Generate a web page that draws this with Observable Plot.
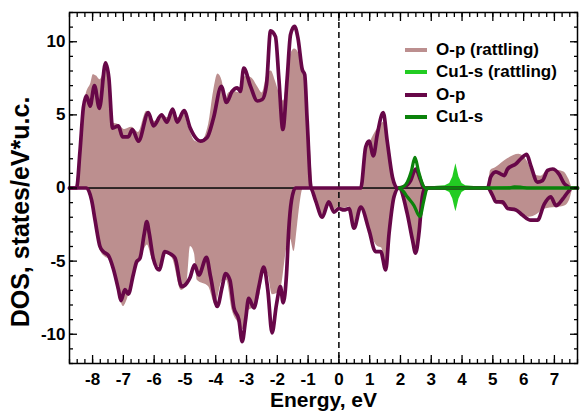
<!DOCTYPE html>
<html>
<head>
<meta charset="utf-8">
<script src="https://cdn.jsdelivr.net/npm/d3@7"></script>
<script src="https://cdn.jsdelivr.net/npm/@observablehq/plot@0.6"></script>
<style>
  body { margin: 0; background: #fff; font-family: "Liberation Sans", Arial, Helvetica, sans-serif; }
  #wrap { position: relative; width: 582px; height: 412px; }
  #legend { position: absolute; left: 0; top: 0; }
  .row { position: absolute; display: flex; align-items: center; height: 22px; white-space: nowrap;
         font-size: 17px; font-weight: bold; color: #000; }
  .sw { width: 22px; height: 4px; margin-right: 9px; }
</style>
</head>
<body>
<div id="wrap"><div id="chart"></div><div id="legend"></div></div>
<script>
// Partial densities of states, spin up (positive) and spin down (negative), [energy eV, DOS]
const opRattUp = [[-8.75,0],[-8.56,0],[-8.4,3.0],[-8.3,5.5],[-8.2,6.5],[-8.05,7.2],[-7.98,7.75],[-7.87,7.65],[-7.76,7.4],[-7.65,7.85],[-7.58,8.3],[-7.43,7.2],[-7.33,4.45],[-7.16,4.35],[-6.95,4.0],[-6.73,4.15],[-6.51,3.8],[-6.24,5.25],[-5.97,4.55],[-5.76,5.0],[-5.54,4.8],[-5.38,5.3],[-5.21,4.8],[-5.05,5.2],[-4.89,4.2],[-4.67,3.2],[-4.5,3.1],[-4.23,4.35],[-4.07,6.6],[-3.93,7.8],[-3.79,7.3],[-3.68,6.05],[-3.58,6.5],[-3.41,6.6],[-3.2,6.5],[-3.03,7.65],[-2.82,7.5],[-2.65,6.95],[-2.49,6.5],[-2.33,7.75],[-2.2,8.0],[-2.06,7.3],[-1.92,6.4],[-1.79,5.95],[-1.68,7.5],[-1.57,9.1],[-1.44,9.5],[-1.3,9.2],[-1.19,8.1],[-1.03,6.4],[-0.92,2.55],[-0.83,0],[0.74,0],[0.87,2.55],[1.03,3.2],[1.19,3.85],[1.36,4.3],[1.45,4.5],[1.55,3.7],[1.68,1.5],[1.75,0.5],[1.84,0],[2.17,0],[2.33,0.6],[2.49,1.3],[2.66,0.6],[2.79,0],[4.83,0],[4.93,1.2],[5.1,1.4],[5.48,2.0],[5.85,2.3],[6.1,1.9],[6.33,0.95],[6.56,0.8],[6.79,1.2],[7.08,1.2],[7.31,1.1],[7.47,0.6],[7.6,0],[7.75,0]];
const opRattDn = [[-8.75,0],[-8.24,0],[-8.03,-0.9],[-7.92,-2.3],[-7.76,-4.2],[-7.6,-4.7],[-7.42,-4.9],[-7.26,-5.8],[-7.13,-7.3],[-7.0,-8.1],[-6.87,-7.6],[-6.62,-5.7],[-6.35,-4.35],[-6.22,-3.9],[-6.06,-4.9],[-5.84,-5.4],[-5.64,-4.5],[-5.41,-4.8],[-5.11,-7.0],[-4.94,-6.6],[-4.82,-4.0],[-4.69,-4.5],[-4.6,-6.3],[-4.23,-6.75],[-4.01,-8.0],[-3.79,-6.4],[-3.65,-6.3],[-3.46,-8.4],[-3.25,-9.25],[-3.09,-9.7],[-2.93,-8.4],[-2.71,-8.1],[-2.55,-7.2],[-2.42,-5.5],[-2.29,-6.0],[-2.16,-7.3],[-1.9,-7.0],[-1.68,-4.0],[-1.57,-3.5],[-1.46,-4.35],[-1.34,-2.5],[-1.25,-0.9],[-1.15,0],[-0.92,0],[-0.76,-0.8],[-0.54,-1.9],[-0.33,-0.95],[-0.16,-1.5],[0,-1.3],[0.16,-1.4],[0.33,-1.3],[0.49,-2.5],[0.71,-1.3],[0.98,-2.9],[1.13,-3.6],[1.26,-4.0],[1.39,-4.1],[1.52,-5.4],[1.63,-3.0],[1.78,-0.6],[1.94,0],[2.22,-1.6],[2.39,-3.4],[2.49,-4.3],[2.6,-3.0],[2.71,-0.6],[2.79,0],[4.83,0],[4.97,-0.6],[5.1,-0.9],[5.45,-1.3],[5.69,-1.5],[5.96,-1.8],[6.17,-2.0],[6.45,-1.8],[6.62,-1.5],[6.94,-1.35],[7.21,-1.3],[7.37,-1.2],[7.5,-0.8],[7.63,0],[7.75,0]];
const cuRattUp = [[2.85,0],[2.95,0.06],[3.2,0.12],[3.45,0.15],[3.6,0.3],[3.7,0.75],[3.76,1.3],[3.8,1.65],[3.84,1.3],[3.9,0.75],[4.0,0.3],[4.12,0.15],[4.4,0.1],[4.7,0.06],[5.0,0.04],[5.6,0.1],[5.8,0.08],[6.2,0.03],[7.75,0.02]];
const cuRattDn = [[2.85,0],[2.95,-0.06],[3.2,-0.12],[3.45,-0.15],[3.6,-0.3],[3.7,-0.75],[3.76,-1.3],[3.8,-1.63],[3.84,-1.3],[3.9,-0.75],[4.0,-0.3],[4.12,-0.15],[4.4,-0.1],[4.7,-0.06],[5.0,-0.04],[5.6,-0.1],[5.8,-0.08],[6.2,-0.03],[7.75,-0.02]];
const opUp = [[-8.75,0],[-8.52,0],[-8.41,2.5],[-8.3,5.5],[-8.2,6.3],[-8.08,5.6],[-7.94,7.0],[-7.78,5.45],[-7.58,8.55],[-7.47,7.5],[-7.35,4.1],[-7.16,4.25],[-7.03,3.5],[-6.84,3.5],[-6.71,4.0],[-6.51,3.2],[-6.19,5.15],[-6.02,4.25],[-5.76,5.0],[-5.59,4.5],[-5.4,5.4],[-5.25,4.5],[-5.03,5.3],[-4.83,4.1],[-4.62,3.35],[-4.5,3.2],[-4.28,3.45],[-4.07,4.8],[-3.82,6.95],[-3.65,5.85],[-3.47,6.6],[-3.3,6.85],[-3.2,6.6],[-3.09,8.2],[-2.87,6.95],[-2.65,5.95],[-2.49,6.05],[-2.35,7.1],[-2.22,10.75],[-2.06,10.35],[-1.95,7.5],[-1.82,4.0],[-1.68,7.5],[-1.57,10.5],[-1.44,11.05],[-1.33,10.25],[-1.19,8.1],[-1.11,7.75],[-1.03,4.6],[-0.9,0],[0.71,0],[0.87,2.8],[0.98,3.2],[1.12,2.2],[1.25,3.7],[1.44,5.15],[1.57,3.2],[1.74,0.75],[1.9,0],[2.14,0.1],[2.33,0.5],[2.49,1.3],[2.66,0.5],[2.76,0],[4.83,0],[4.93,0.75],[5.1,1.1],[5.26,0.95],[5.37,0.85],[5.48,1.3],[5.75,1.65],[5.91,2.0],[6.1,2.3],[6.23,1.55],[6.45,0.4],[6.61,0.5],[6.78,1.2],[6.94,1.3],[7.15,0.95],[7.32,0.3],[7.44,0.1],[7.53,0],[7.75,0]];
const opDn = [[-8.75,0],[-8.2,0],[-8.03,-0.85],[-7.92,-2.2],[-7.76,-4.0],[-7.65,-4.35],[-7.49,-4.6],[-7.33,-5.5],[-7.16,-6.95],[-7.08,-7.7],[-6.95,-6.95],[-6.84,-7.25],[-6.68,-5.95],[-6.57,-5.05],[-6.46,-4.8],[-6.32,-3.1],[-6.24,-2.3],[-6.16,-3.1],[-6.03,-4.8],[-5.84,-5.6],[-5.65,-4.35],[-5.48,-4.5],[-5.32,-4.8],[-5.11,-6.75],[-4.94,-6.5],[-4.83,-6.1],[-4.69,-5.25],[-4.55,-5.95],[-4.3,-4.75],[-4.17,-6.05],[-3.95,-8.1],[-3.79,-6.75],[-3.68,-5.85],[-3.54,-6.3],[-3.41,-8.2],[-3.25,-9.0],[-3.14,-10.5],[-3.03,-9.0],[-2.93,-7.55],[-2.76,-8.2],[-2.6,-6.75],[-2.44,-5.4],[-2.31,-6.95],[-2.17,-9.9],[-2.03,-8.0],[-1.9,-6.75],[-1.81,-7.85],[-1.7,-5.85],[-1.63,-2.9],[-1.54,-0.85],[-1.41,0],[-0.92,0],[-0.76,-0.85],[-0.54,-2.0],[-0.33,-0.95],[-0.16,-1.65],[0,-1.4],[0.16,-1.5],[0.33,-1.4],[0.49,-2.75],[0.71,-1.3],[0.98,-2.9],[1.19,-4.35],[1.36,-4.35],[1.52,-5.6],[1.63,-3.1],[1.79,-0.6],[1.95,0],[2.22,-1.75],[2.39,-3.55],[2.49,-4.45],[2.6,-3.1],[2.71,-0.6],[2.79,0],[4.83,0],[4.99,-0.5],[5.1,-0.95],[5.31,-0.95],[5.48,-1.4],[5.75,-1.5],[5.96,-1.85],[6.23,-2.2],[6.45,-2.2],[6.67,-1.1],[6.88,-0.6],[7.05,-1.2],[7.27,-0.75],[7.43,-0.3],[7.57,0],[7.75,0]];
const cuUp = [[1.97,0],[2.1,0.1],[2.22,0.4],[2.36,1.2],[2.47,2.1],[2.58,1.2],[2.71,0.3],[2.81,0],[5.5,0],[5.7,0.08],[5.9,0.06],[6.1,0],[7.75,0]];
const cuDn = [[1.97,0],[2.1,-0.25],[2.22,-0.6],[2.44,-1.2],[2.63,-1.95],[2.76,-0.85],[2.85,-0.1],[2.92,0],[3.9,0],[4.0,-0.05],[4.1,0],[7.75,0]];

// Series names and colours for the legend
const seriesNames = ["O-p (rattling)", "Cu1-s (rattling)", "O-p", "Cu1-s"];
const seriesColors = ["#bc8f8f", "#22cc22", "#670748", "#0b820b"];

// Axis ticks and titles
const xMajor = d3.range(-8, 8, 1);
const xMinor = d3.range(-8.75, 7.76, 0.25);
const yMajor = [-10, -5, 0, 5, 10];
const yMinor = d3.range(-12, 12.5, 1);
const xTitle = "Energy, eV";
const yTitle = "DOS, states/eV*u.c.";

const X = d => d[0], Y = d => d[1];
const noLabel = () => "";
const tickStyle = {stroke: "black", strokeWidth: 1.3, label: null, tickFormat: noLabel};

const chart = Plot.plot({
  width: 582,
  height: 412,
  marginLeft: 69,
  marginRight: 5,
  marginTop: 12,
  marginBottom: 49,
  x: {domain: [-8.75, 7.75]},
  y: {domain: [-12, 12]},
  style: {fontFamily: '"Liberation Sans", Arial, Helvetica, sans-serif', background: "white", color: "black"},
  marks: [
    Plot.areaY(opRattUp, {x: X, y: Y, fill: seriesColors[0], curve: "monotone-x"}),
    Plot.areaY(opRattDn, {x: X, y: Y, fill: seriesColors[0], curve: "monotone-x"}),
    Plot.areaY(cuRattUp, {x: X, y: Y, fill: seriesColors[1]}),
    Plot.areaY(cuRattDn, {x: X, y: Y, fill: seriesColors[1]}),
    Plot.ruleY([0], {stroke: "black", strokeWidth: 1.5}),
    Plot.ruleX([0], {stroke: "black", strokeWidth: 1.5, strokeDasharray: "6,4"}),
    Plot.line(opUp, {x: X, y: Y, stroke: seriesColors[2], strokeWidth: 3.7, curve: "monotone-x"}),
    Plot.line(opDn, {x: X, y: Y, stroke: seriesColors[2], strokeWidth: 3.7, curve: "monotone-x"}),
    Plot.line(cuUp, {x: X, y: Y, stroke: seriesColors[3], strokeWidth: 3.2, curve: "monotone-x"}),
    Plot.line(cuDn, {x: X, y: Y, stroke: seriesColors[3], strokeWidth: 3.2, curve: "monotone-x"}),
    Plot.frame({stroke: "black", strokeWidth: 1.5}),
    // inward ticks on all four sides
    Plot.axisX(xMinor, {anchor: "bottom", tickSize: 4, dy: -4, ...tickStyle}),
    Plot.axisX(xMinor, {anchor: "top", tickSize: 4, dy: 4, ...tickStyle}),
    Plot.axisX(xMajor, {anchor: "bottom", tickSize: 8, dy: -8, ...tickStyle}),
    Plot.axisX(xMajor, {anchor: "top", tickSize: 8, dy: 8, ...tickStyle}),
    Plot.axisY(yMinor, {anchor: "left", tickSize: 4, dx: 4, ...tickStyle}),
    Plot.axisY(yMinor, {anchor: "right", tickSize: 4, dx: -4, ...tickStyle}),
    Plot.axisY(yMajor, {anchor: "left", tickSize: 8, dx: 8, ...tickStyle}),
    Plot.axisY(yMajor, {anchor: "right", tickSize: 8, dx: -8, ...tickStyle}),
    // tick labels
    Plot.axisX(xMajor, {anchor: "bottom", tickSize: 0, tickPadding: 9, tickFormat: d => String(d),
      fontSize: 17, fontWeight: "bold", label: null}),
    Plot.axisY(yMajor, {anchor: "left", tickSize: 0, tickPadding: 4, tickFormat: d => String(d),
      fontSize: 17, fontWeight: "bold", label: null}),
    // axis titles
    Plot.text([xTitle], {frameAnchor: "bottom", textAnchor: "middle", lineAnchor: "middle", dy: 37,
      fontSize: 21, fontWeight: "bold"}),
    Plot.text([yTitle], {frameAnchor: "left", textAnchor: "middle", lineAnchor: "middle", rotate: -90,
      dx: -49, dy: 24, fontSize: 25, fontWeight: "bold"})
  ]
});
document.getElementById("chart").append(chart);

// legend in the upper right of the plot area
const legend = document.getElementById("legend");
seriesNames.forEach((name, i) => {
  const row = document.createElement("div");
  row.className = "row";
  row.style.left = "405px";
  row.style.top = (39 + i * 22.4) + "px";
  const sw = document.createElement("span");
  sw.className = "sw";
  sw.style.background = seriesColors[i];
  const label = document.createElement("span");
  label.textContent = name;
  row.append(sw, label);
  legend.append(row);
});
</script>
</body>
</html>
